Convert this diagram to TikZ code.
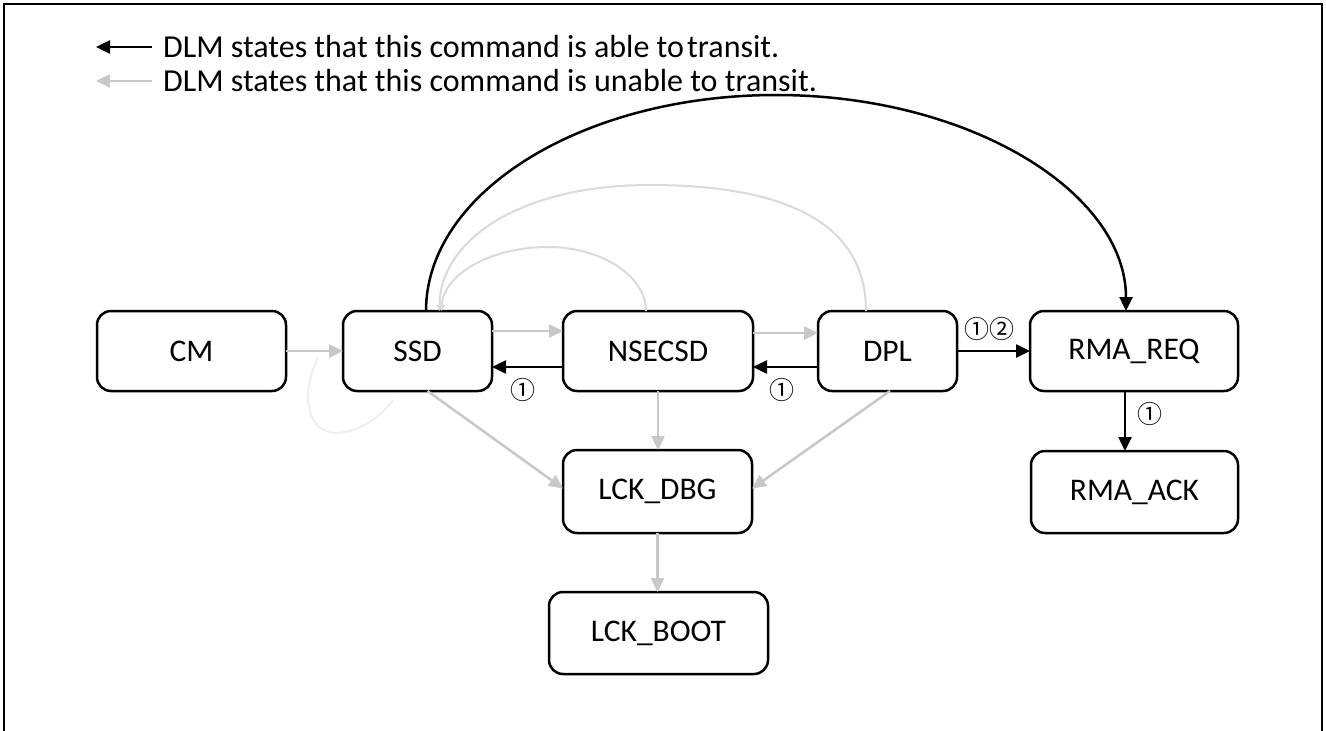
\documentclass[tikz,border=0pt]{standalone}
\usepackage{fontspec}
\setmainfont{Carlito}
\newfontfamily\circfont{Noto Sans CJK JP}
\usetikzlibrary{arrows.meta}
\definecolor{lg}{RGB}{200,200,200}
\definecolor{arcg}{RGB}{218,218,218}
\definecolor{faint}{RGB}{238,238,238}
\begin{document}
\begin{tikzpicture}[x=1pt,y=-1pt,
 box/.style={draw=black, line width=2.5pt, rounded corners=14pt, inner sep=0pt, outer sep=0pt, font=\fontsize{31.5}{36}\selectfont, align=center},
 blk/.style={draw=black, line width=2.5pt, -{Triangle[length=14pt,width=13pt]}},
 gry/.style={draw=lg, line width=2.5pt, -{Triangle[length=14pt,width=13pt]}},
 arcgry/.style={draw=arcg, line width=2pt, -{Triangle[length=6pt,width=6pt]}},
 num/.style={font=\circfont\fontsize{25}{26}\selectfont, inner sep=0pt},
 legtext/.style={anchor=west, font=\fontsize{32}{36}\selectfont, inner sep=0pt}]
\useasboundingbox (0,0) rectangle (1326,731);
\fill[white] (0,0) rectangle (1326,731);
\draw[line width=2.5pt] (4,731) -- (4,4) -- (1322,4) -- (1322,731);

% legend
\coordinate (l1a) at (152,47); \coordinate (l1b) at (96,47);
\coordinate (l2a) at (152,81); \coordinate (l2b) at (96,81);
\draw[blk] (l1a) -- (l1b);
\draw[gry] (l2a) -- (l2b);
\node[legtext] (leg1) at (163,47) {DLM states that this command is able to\hspace{0.1em}transit.};
\node[legtext] (leg2) at (163,81) {DLM states that this command is unable to transit.};

% nodes
\node[box, minimum width=189pt, minimum height=80pt] (CM) at (191.5,351) {CM};
\node[box, minimum width=149pt, minimum height=80pt] (SSD) at (417.5,351) {SSD};
\node[box, minimum width=190pt, minimum height=80pt] (NSECSD) at (658,351) {NSECSD};
\node[box, minimum width=139pt, minimum height=80pt] (DPL) at (887.5,351) {DPL};
\node[box, minimum width=208pt, minimum height=80pt] (RMAREQ) at (1134,351) {RMA\_REQ};
\node[box, minimum width=207pt, minimum height=82pt] (RMAACK) at (1134.5,492) {RMA\_ACK};
\node[box, minimum width=189pt, minimum height=83pt] (LCKDBG) at (657.5,491.5) {LCK\_DBG};
\node[box, minimum width=219pt, minimum height=82pt] (LCKBOOT) at (658.5,633) {LCK\_BOOT};

% faint loop near SSD
\draw[faint, line width=2pt] (318,358) .. controls (300,392) and (305,440) .. (345,432) .. controls (366,428) and (385,412) .. (393,400);

% gray arcs
\draw[arcgry] ([xshift=-21.5pt]DPL.north) .. controls (866,210) and (760,185) .. (650,185) .. controls (520,185) and (440,240) .. ([xshift=22pt]SSD.north);
\draw[arcgry] ([xshift=-12pt]NSECSD.north) .. controls (646,275) and (600,247) .. (548,247) .. controls (490,247) and (443,275) .. ([xshift=24pt]SSD.north);

% gray straight arrows
\draw[gry] (CM.east) -- (SSD.west);
\draw[gry] ([yshift=20pt]SSD.east) -- ([yshift=20pt]NSECSD.west);
\draw[gry] ([yshift=18pt]NSECSD.east) -- ([yshift=18pt]DPL.west);
\draw[gry] (NSECSD.south) -- (NSECSD.south |- LCKDBG.north);
\draw[gry] ([xshift=10pt]SSD.south) -- ([yshift=3pt]LCKDBG.west);
\draw[gry] ([xshift=2.5pt]DPL.south) -- ([yshift=3pt]LCKDBG.east);
\draw[gry] (LCKDBG.south) -- (LCKDBG.south |- LCKBOOT.north);

% black arrows
\draw[blk] ([yshift=-16pt]NSECSD.west) -- node[num, below=10pt, pos=0.56] (n1) {①} ([yshift=-16pt]SSD.east);
\draw[blk] ([yshift=-16pt]DPL.west) -- node[num, below=10pt, pos=0.55] (n2) {①} ([yshift=-16pt]NSECSD.east);
\draw[blk] (DPL.east) -- node[num, above=9pt, pos=0.45] (n3) {①②} (RMAREQ.west);
\draw[blk] ([xshift=-9pt]RMAREQ.south) -- node[num, right=11pt, pos=0.39] (n4) {①} ([xshift=-9pt]RMAREQ.south |- RMAACK.north);

% big black arc
\draw[blk] ([xshift=8.5pt]SSD.north) .. controls (426,192) and (583,95) .. (776,95) .. controls (969,95) and (1126,192) .. ([xshift=-8pt]RMAREQ.north);
\end{tikzpicture}
\end{document}
